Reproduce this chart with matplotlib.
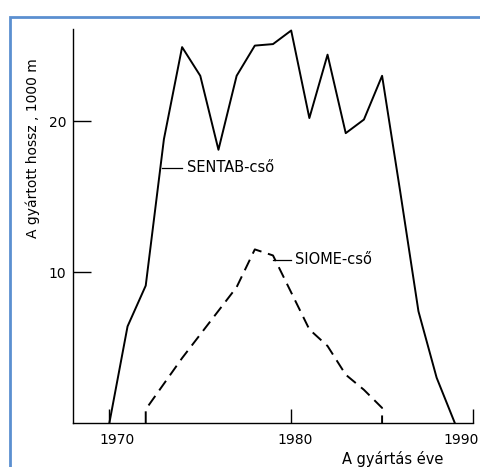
import matplotlib
matplotlib.use("Agg")
import matplotlib.pyplot as plt
from matplotlib.patches import Rectangle
from matplotlib.transforms import ScaledTranslation

# SENTAB-cső (folytonos vonal)
sentab_years = [1970, 1971, 1972, 1973, 1974, 1975, 1976, 1977, 1978, 1979,
                1980, 1981, 1982, 1983, 1984, 1985, 1986, 1987, 1988, 1989]
sentab_vals = [0, 6.4, 9.1, 18.8, 24.9, 23.0, 18.1, 23.0, 25.0, 25.1,
               26.0, 20.2, 24.4, 19.2, 20.1, 23.0, 15.3, 7.4, 3.0, 0]

# SIOME-cső (szaggatott vonal)
siome_years = [1972, 1972, 1974, 1977, 1978, 1979, 1981, 1982, 1983, 1984, 1985, 1985]
siome_vals = [0, 0.9, 4.3, 9.0, 11.5, 11.1, 6.2, 5.1, 3.2, 2.2, 1.0, 0]

x_ticks = [1970, 1980, 1990]
y_ticks = [10, 20]

W, H = 481, 467
fig = plt.figure(figsize=(W / 100, H / 100), dpi=100)
ax = fig.add_axes([73 / W, (H - 423) / H, 400 / W, 394 / H])

ax.plot(sentab_years, sentab_vals, color="black", lw=1.4)
ax.plot(siome_years, siome_vals, color="black", lw=1.4, dashes=(6, 3.5))

ax.set_xlim(1968, 1990)
ax.set_ylim(0, 26.1)

for s in ["top", "right"]:
    ax.spines[s].set_visible(False)
for s in ["left", "bottom"]:
    ax.spines[s].set_linewidth(1.0)

ax.set_xticks(x_ticks)
ax.set_yticks(y_ticks)
ax.tick_params(axis="x", direction="in", length=10, width=1, pad=7, labelsize=10)
ax.tick_params(axis="y", direction="in", length=13, width=1, pad=5, labelsize=10)

# évszámok kissé eltolva, mint az eredetin
shifts = [8, 4, -12]
for lbl, dx in zip(ax.get_xticklabels(), shifts):
    lbl.set_transform(lbl.get_transform() + ScaledTranslation(dx / 100, 0, fig.dpi_scale_trans))

# feliratok vezetővonallal
ax.plot([1972.9, 1974.0], [16.9, 16.9], color="black", lw=0.9)
ax.text(1974.25, 16.9, "SENTAB-cső", fontsize=10.5, va="center", ha="left")
ax.plot([1979.0, 1980.0], [10.8, 10.8], color="black", lw=0.9)
ax.text(1980.2, 10.8, "SIOME-cső", fontsize=10.5, va="center", ha="left")

fig.text(33 / W, 1 - 148 / H, "A gyártott hossz , 1000 m", rotation=90,
         ha="center", va="center", fontsize=10)
fig.text(393 / W, 1 - 459 / H, "A gyártás éve", ha="center", va="center",
         fontsize=10.5)

# kék keret
fig.patches.append(Rectangle((9.5 / W, -0.1), 1.0, 1 - 16.5 / H + 0.1,
                             transform=fig.transFigure, fill=False,
                             edgecolor="#5b8fd0", lw=2))

fig.savefig("out.png", dpi=100)
